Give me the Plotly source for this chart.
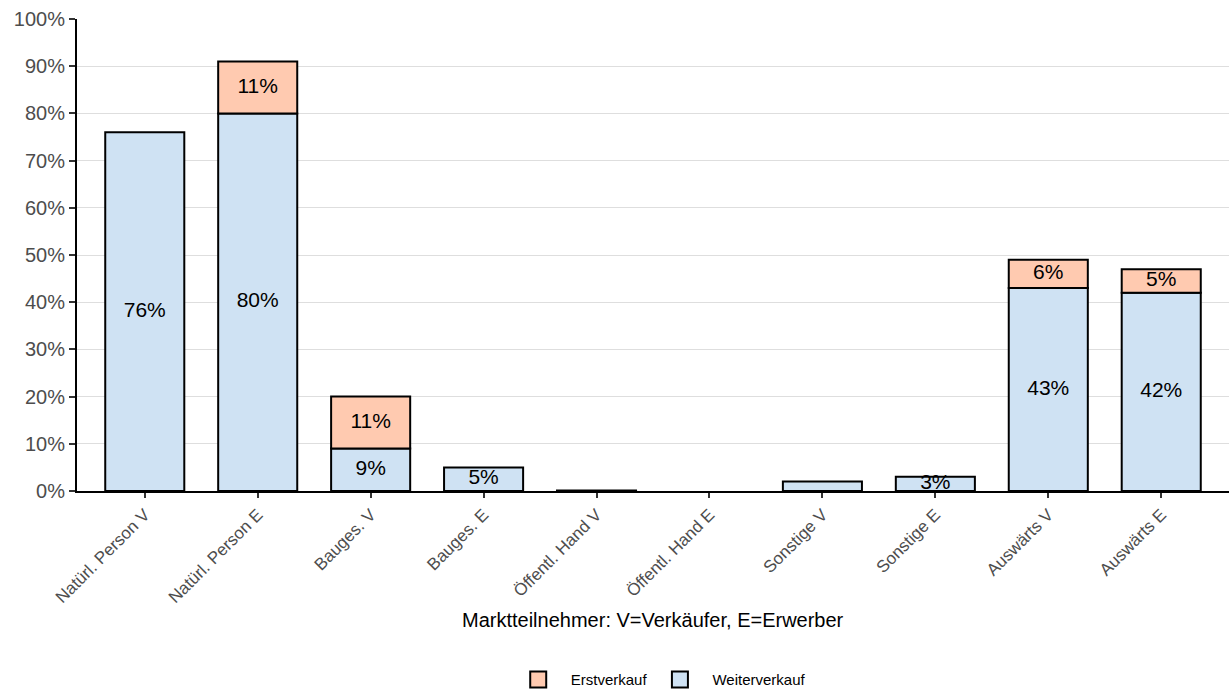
import plotly.graph_objects as go

# Market participants (V = seller, E = buyer)
categories = [
    "Natürl. Person V", "Natürl. Person E", "Bauges. V", "Bauges. E",
    "Öffentl. Hand V", "Öffentl. Hand E", "Sonstige V", "Sonstige E",
    "Auswärts V", "Auswärts E",
]
weiterverkauf = [76, 80, 9, 5, 0.1, 0, 2, 3, 43, 42]
erstverkauf = [0, 11, 11, 0, 0, 0, 0, 0, 6, 5]

y_ticks = list(range(0, 101, 10))
y_tick_labels = [f"{v}%" for v in y_ticks]

COL_WEITER = "#CFE2F3"
COL_ERST = "#FFCAB0"
FONT = "Arial, Liberation Sans, sans-serif"
LABEL_MIN = 3  # segments below this share get no value label
NBSP = "\u00a0"


def seg_labels(vals):
    return [f"{v:.0f}%" if v >= LABEL_MIN else "" for v in vals]


def outline_widths(vals):
    # empty segments get no outline
    return [2 if v > 0 else 0 for v in vals]


fig = go.Figure()

fig.add_trace(go.Bar(
    x=categories, y=weiterverkauf, name="Weiterverkauf", showlegend=False,
    marker=dict(color=COL_WEITER,
                line=dict(color="black", width=outline_widths(weiterverkauf))),
    width=0.7, hoverinfo="x+y",
))
fig.add_trace(go.Bar(
    x=categories, y=erstverkauf, base=weiterverkauf, name="Erstverkauf", showlegend=False,
    marker=dict(color=COL_ERST,
                line=dict(color="black", width=outline_widths(erstverkauf))),
    width=0.7, hoverinfo="x+y",
))

# value labels centred in each segment
mid_w = [w / 2 for w in weiterverkauf]
mid_e = [w + e / 2 for w, e in zip(weiterverkauf, erstverkauf)]
fig.add_trace(go.Scatter(
    x=categories + categories, y=mid_w + mid_e,
    text=seg_labels(weiterverkauf) + seg_labels(erstverkauf),
    mode="text", textfont=dict(family=FONT, size=21, color="black"),
    showlegend=False, hoverinfo="skip",
))

# legend keys: outlined squares
legend_entries = [
    (NBSP * 3 + "Erstverkauf" + NBSP * 2, COL_ERST),
    (NBSP * 3 + "Weiterverkauf", COL_WEITER),
]
for name, col in legend_entries:
    fig.add_trace(go.Scatter(
        x=[None], y=[None], mode="markers", name=name,
        marker=dict(symbol="square", size=18, color=col,
                    line=dict(color="black", width=2)),
        hoverinfo="skip",
    ))

fig.update_layout(
    width=1231, height=691,
    margin=dict(l=77, r=2, t=19, b=200, autoexpand=False),
    plot_bgcolor="white", paper_bgcolor="white",
    barmode="overlay",
    font=dict(family=FONT),
    showlegend=True,
    legend=dict(
        orientation="h", x=0.383, xanchor="left", y=-0.400, yanchor="middle",
        font=dict(size=15, color="black", family=FONT),
        bgcolor="rgba(0,0,0,0)",
    ),
    annotations=[dict(
        text="Marktteilnehmer: V=Verkäufer, E=Erwerber",
        x=0.5, xref="paper", y=-0.273, yref="paper",
        showarrow=False, font=dict(size=20, color="black", family=FONT),
        xanchor="center", yanchor="middle",
    )],
)

fig.update_xaxes(
    range=[-0.6, 9.6], showgrid=False, showline=True, linecolor="black", linewidth=2,
    ticks="outside", ticklen=5, tickwidth=2, tickcolor="#333333",
    tickangle=-45, tickfont=dict(size=17, color="#4D4D4D", family=FONT),
)
fig.update_yaxes(
    range=[0, 100], tickvals=y_ticks, ticktext=y_tick_labels,
    showgrid=True, gridcolor="#DEDEDE", gridwidth=1,
    showline=True, linecolor="black", linewidth=2, zeroline=False,
    ticks="outside", ticklen=6, tickwidth=2, tickcolor="#333333",
    tickfont=dict(size=20, color="#4D4D4D", family=FONT),
)

fig.write_html("out.html")
